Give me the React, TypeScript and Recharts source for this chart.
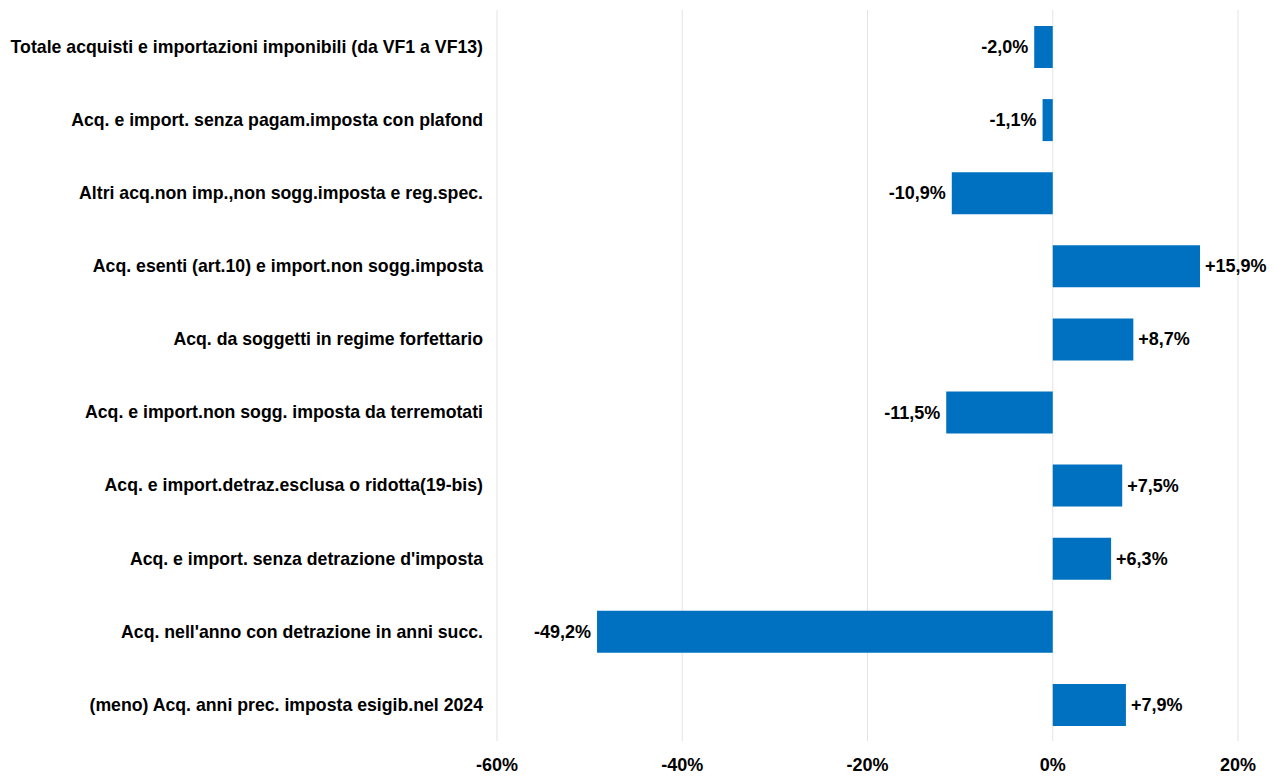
import { BarChart, Bar, XAxis, YAxis, CartesianGrid, LabelList } from "recharts";

const categories = [
  "Totale acquisti e importazioni imponibili (da VF1 a VF13)",
  "Acq. e import. senza pagam.imposta con plafond",
  "Altri acq.non imp.,non sogg.imposta e reg.spec.",
  "Acq. esenti (art.10) e import.non sogg.imposta",
  "Acq. da soggetti in regime forfettario",
  "Acq. e import.non sogg. imposta da terremotati",
  "Acq. e import.detraz.esclusa o ridotta(19-bis)",
  "Acq. e import. senza detrazione d'imposta",
  "Acq. nell'anno con detrazione in anni succ.",
  "(meno) Acq. anni prec. imposta esigib.nel 2024",
];

const variations = [-2.0, -1.1, -10.9, 15.9, 8.7, -11.5, 7.5, 6.3, -49.2, 7.9];

const xTicks = [-60, -40, -20, 0, 20];

const data = categories.map((name, i) => ({ name, value: variations[i] }));

const fmt = (v: number) => (v > 0 ? "+" : "") + v.toFixed(1).replace(".", ",") + "%";

const ValueLabel = (props: any) => {
  const { x, y, width, height, value } = props;
  const left = Math.min(x, x + width);
  const right = Math.max(x, x + width);
  const neg = value < 0;
  return (
    <text
      x={neg ? left - 6 : right + 5}
      y={y + height / 2}
      textAnchor={neg ? "end" : "start"}
      dominantBaseline="central"
      fontSize={18}
      fontWeight="bold"
      fill="#000"
    >
      {fmt(value)}
    </text>
  );
};

const App = () => {
  return (
    <div style={{ position: "absolute", top: 0, left: 0, fontFamily: "'Liberation Sans', Arial, sans-serif" }}>
      <BarChart
        width={1274}
        height={778}
        data={data}
        layout="vertical"
        margin={{ top: 10, right: 36, bottom: 0, left: 0 }}
      >
        <CartesianGrid horizontal={false} stroke="#e3e3e3" />
        <XAxis
          type="number"
          domain={[-60, 20]}
          ticks={xTicks}
          tickFormatter={(v: number) => `${v}%`}
          axisLine={false}
          tickLine={false}
          tickSize={0}
          tickMargin={17}
          height={37}
          tick={{ fontSize: 18, fontWeight: "bold", fill: "#000" }}
        />
        <YAxis
          type="category"
          dataKey="name"
          width={497}
          axisLine={false}
          tickLine={false}
          tickSize={0}
          tickMargin={14}
          interval={0}
          tick={{ fontSize: 17.7, fontWeight: "bold", fill: "#000" }}
        />
        <Bar dataKey="value" fill="#0070C0" barSize={42} isAnimationActive={false}>
          <LabelList dataKey="value" content={ValueLabel} />
        </Bar>
      </BarChart>
    </div>
  );
};

export default App;
